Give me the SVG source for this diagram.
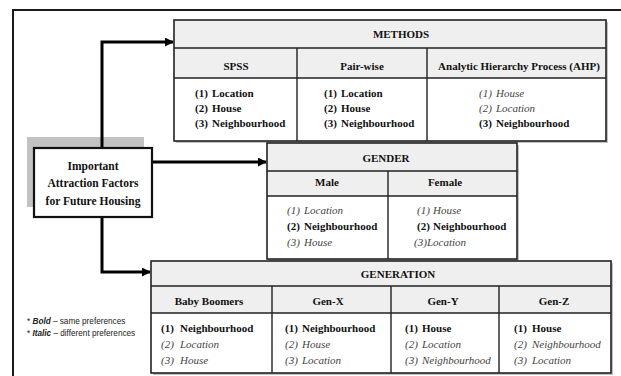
<svg xmlns="http://www.w3.org/2000/svg" width="621" height="376" viewBox="0 0 621 376">
<defs>
<style>
.frame{fill:none;stroke:#1a1a1a;stroke-width:2}
.hd{fill:#efefef;stroke:none}
.body{fill:#fff;stroke:none}
.sh{fill:#9a9a9a;opacity:0.6}
.ln{fill:none;stroke:#222;stroke-width:1.4}
.bx{fill:none;stroke:#222;stroke-width:1.6}
.t{font-family:'Liberation Serif','DejaVu Serif',serif;font-size:11px;font-weight:bold;fill:#111;text-anchor:middle}
.b{font-family:'Liberation Serif','DejaVu Serif',serif;font-size:11px;font-weight:bold;fill:#111}
.i{font-family:'Liberation Serif','DejaVu Serif',serif;font-size:11px;font-style:italic;fill:#444}
.ttl{font-family:'Liberation Serif','DejaVu Serif',serif;font-size:11.5px;font-weight:bold;fill:#111;text-anchor:middle}
.lg{font-family:'Liberation Sans',Arial,sans-serif;font-size:8.2px;fill:#222}
.con{fill:none;stroke:#000;stroke-width:3}
</style>
<marker id="ah" viewBox="0 0 10 10" refX="9" refY="5" markerWidth="3" markerHeight="3" orient="auto" markerUnits="strokeWidth">
<path d="M0,0 L10,5 L0,10 Z" fill="#000"/>
</marker>
</defs>
<rect width="621" height="376" fill="#fff"/>
<path class="frame" d="M13,376 V10 H621"/>

<rect x="27" y="137" width="117" height="70" fill="#c2c2c2"/>

<g id="connectors">
<path class="con" d="M102,148 V42 H173" marker-end="url(#ah)"/>
<path class="con" d="M152,162 H266" marker-end="url(#ah)"/>
<path class="con" d="M102,217 V272 H150" marker-end="url(#ah)"/>
</g>

<g id="factors" font-family="Liberation Serif, serif">
<rect x="34" y="148" width="118" height="69" fill="#fff" stroke="#111" stroke-width="2.2"/>
<text class="ttl" x="93" y="170">Important</text>
<text class="ttl" x="93" y="187">Attraction Factors</text>
<text class="ttl" x="93" y="205">for Future Housing</text>
</g>

<g id="methods" font-family="Liberation Serif, serif">
<rect class="sh" x="176" y="22" width="432" height="121"/>
<rect class="hd" x="174" y="20" width="432" height="58"/>
<rect class="body" x="174" y="78" width="432" height="63"/>
<rect class="bx" x="174" y="20" width="432" height="121"/>
<path class="ln" d="M174,48 H606 M174,78 H606 M297,48 V141 M427,48 V141"/>
<text class="t" x="401" y="38">METHODS</text>
<text class="t" x="236" y="70">SPSS</text>
<text class="t" x="362" y="70">Pair-wise</text>
<text class="t" x="519" y="70">Analytic Hierarchy Process (AHP)</text>
<text class="b" x="195" y="97">(1)<tspan x="212">Location</tspan></text>
<text class="b" x="195" y="112">(2)<tspan x="212">House</tspan></text>
<text class="b" x="195" y="127">(3)<tspan x="212">Neighbourhood</tspan></text>
<text class="b" x="324" y="97">(1)<tspan x="341">Location</tspan></text>
<text class="b" x="324" y="112">(2)<tspan x="341">House</tspan></text>
<text class="b" x="324" y="127">(3)<tspan x="341">Neighbourhood</tspan></text>
<text class="i" x="479" y="97">(1)<tspan x="496">House</tspan></text>
<text class="i" x="479" y="112">(2)<tspan x="496">Location</tspan></text>
<text class="b" x="479" y="127">(3)<tspan x="496">Neighbourhood</tspan></text>
</g>

<g id="gender" font-family="Liberation Serif, serif">
<rect class="sh" x="269" y="145" width="250" height="116"/>
<rect class="hd" x="267" y="143" width="250" height="53"/>
<rect class="body" x="267" y="196" width="250" height="63"/>
<rect class="bx" x="267" y="143" width="250" height="116"/>
<path class="ln" d="M267,171 H517 M267,196 H517 M388,171 V259"/>
<text class="t" x="386" y="162">GENDER</text>
<text class="t" x="327" y="186">Male</text>
<text class="t" x="445" y="186">Female</text>
<text class="i" x="287" y="214">(1)<tspan x="304">Location</tspan></text>
<text class="b" x="287" y="230">(2)<tspan x="304">Neighbourhood</tspan></text>
<text class="i" x="287" y="246">(3)<tspan x="304">House</tspan></text>
<text class="i" x="417" y="214">(1)<tspan x="433">House</tspan></text>
<text class="b" x="417" y="230">(2)<tspan x="433">Neighbourhood</tspan></text>
<text class="i" x="414" y="246">(3)<tspan x="427">Location</tspan></text>
</g>

<g id="generation" font-family="Liberation Serif, serif">
<rect class="sh" x="153" y="263" width="460" height="112"/>
<rect class="hd" x="151" y="261" width="460" height="52"/>
<rect class="body" x="151" y="313" width="460" height="60"/>
<rect class="bx" x="151" y="261" width="460" height="112"/>
<path class="ln" d="M151,286 H611 M151,313 H611 M272,286 V373 M391,286 V373 M499,286 V373"/>
<text class="t" x="398" y="278">GENERATION</text>
<text class="t" x="209" y="305">Baby Boomers</text>
<text class="t" x="328" y="305">Gen-X</text>
<text class="t" x="443" y="305">Gen-Y</text>
<text class="t" x="554" y="305">Gen-Z</text>
<text class="b" x="161" y="332">(1)<tspan x="180">Neighbourhood</tspan></text>
<text class="i" x="161" y="348">(2)<tspan x="180">Location</tspan></text>
<text class="i" x="161" y="364">(3)<tspan x="180">House</tspan></text>
<text class="b" x="285" y="332">(1)<tspan x="302">Neighbourhood</tspan></text>
<text class="i" x="285" y="348">(2)<tspan x="302">House</tspan></text>
<text class="i" x="285" y="364">(3)<tspan x="302">Location</tspan></text>
<text class="b" x="405" y="332">(1)<tspan x="422">House</tspan></text>
<text class="i" x="405" y="348">(2)<tspan x="422">Location</tspan></text>
<text class="i" x="405" y="364">(3)<tspan x="422">Neighbourhood</tspan></text>
<text class="b" x="514" y="332">(1)<tspan x="532">House</tspan></text>
<text class="i" x="514" y="348">(2)<tspan x="532">Neighbourhood</tspan></text>
<text class="i" x="514" y="364">(3)<tspan x="532">Location</tspan></text>
</g>

<g id="legend">
<text class="lg" x="27" y="324">* <tspan font-weight="bold" font-style="italic">Bold</tspan> – same preferences</text>
<text class="lg" x="27" y="336">* <tspan font-weight="bold" font-style="italic">Italic</tspan> – different preferences</text>
</g>
</svg>
